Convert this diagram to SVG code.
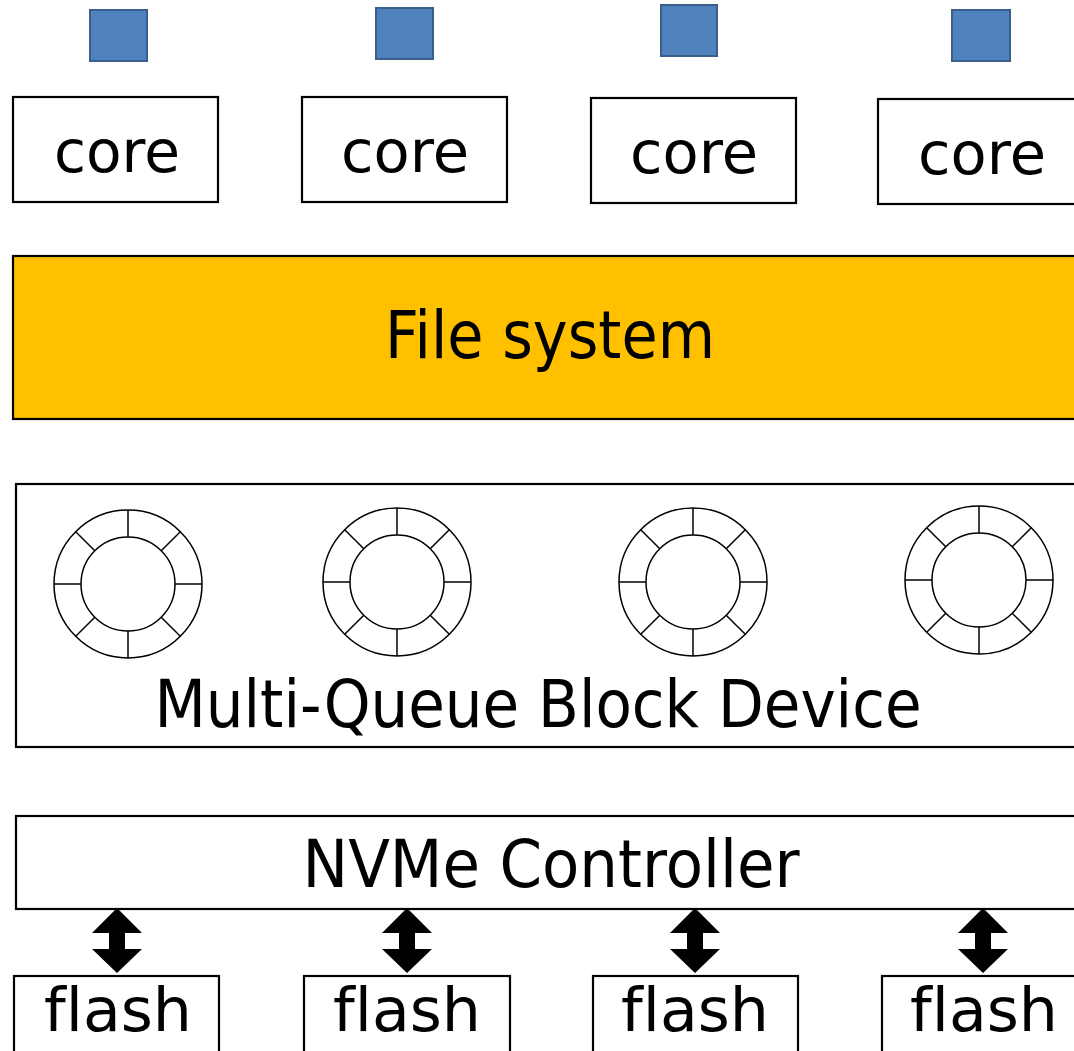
<svg xmlns="http://www.w3.org/2000/svg" xmlns:xlink="http://www.w3.org/1999/xlink" width="1074" height="1051" viewBox="0 0 1074 1051">
  <style>
    .box { fill: #ffffff; stroke: #000000; stroke-width: 2.2; }
    .fs { fill: #FFC000; stroke: #000000; stroke-width: 2.2; }
    .thread { fill: #4F81BD; stroke: #3A5F8B; stroke-width: 2; }
    .ring { fill: #ffffff; stroke: #000000; stroke-width: 1.5; }
    .spoke { stroke: #000000; stroke-width: 1.5; }
    .arrow { fill: #000000; }
    text { font-family: "DejaVu Sans", "Open Sans", sans-serif; fill: #000000; text-anchor: middle; font-variant-ligatures: none; }
    .t-core { font-size: 58px; }
    .t-big { font-size: 65px; }
    .t-flash { font-size: 60px; }
  </style>
  <defs>
    <!-- request queue ring: outer/inner circle with 8 slots -->
    <g id="queue-ring">
      <circle class="ring" cx="0" cy="0" r="74"/>
      <circle class="ring" cx="0" cy="0" r="47"/>
      <line class="spoke" x1="0" y1="-47" x2="0" y2="-74"/>
      <line class="spoke" x1="0" y1="47" x2="0" y2="74"/>
      <line class="spoke" x1="-47" y1="0" x2="-74" y2="0"/>
      <line class="spoke" x1="47" y1="0" x2="74" y2="0"/>
      <line class="spoke" x1="33.2" y1="-33.2" x2="52.3" y2="-52.3"/>
      <line class="spoke" x1="-33.2" y1="-33.2" x2="-52.3" y2="-52.3"/>
      <line class="spoke" x1="33.2" y1="33.2" x2="52.3" y2="52.3"/>
      <line class="spoke" x1="-33.2" y1="33.2" x2="-52.3" y2="52.3"/>
    </g>
    <!-- double-headed block arrow centred on x=0 -->
    <polygon id="dbl-arrow" class="arrow" points="0,908 25,933 8,933 8,949 25,949 0,973 -25,949 -8,949 -8,933 -25,933"/>
  </defs>

  <!-- threads -->
  <g id="thread1"><rect class="thread" x="90" y="10" width="57" height="51"/></g>
  <g id="thread2"><rect class="thread" x="376" y="8" width="57" height="51"/></g>
  <g id="thread3"><rect class="thread" x="661" y="5" width="56" height="51"/></g>
  <g id="thread4"><rect class="thread" x="952" y="10" width="58" height="51"/></g>

  <!-- cores -->
  <g id="core1"><rect class="box" x="13" y="97" width="205" height="105"/><text class="t-core" x="117" y="172" textLength="126" lengthAdjust="spacingAndGlyphs">core</text></g>
  <g id="core2"><rect class="box" x="302" y="97" width="205" height="105"/><text class="t-core" x="405" y="172" textLength="128" lengthAdjust="spacingAndGlyphs">core</text></g>
  <g id="core3"><rect class="box" x="591" y="98" width="205" height="105"/><text class="t-core" x="694" y="173" textLength="128" lengthAdjust="spacingAndGlyphs">core</text></g>
  <g id="core4"><rect class="box" x="878" y="99" width="250" height="105"/><text class="t-core" x="982" y="174" textLength="128" lengthAdjust="spacingAndGlyphs">core</text></g>

  <!-- file system layer -->
  <g id="file-system"><rect class="fs" x="13" y="256" width="1100" height="163"/><text class="t-big" x="550" y="358" textLength="330" lengthAdjust="spacingAndGlyphs">File system</text></g>

  <!-- multi-queue block layer -->
  <g id="block-device">
    <rect class="box" x="16" y="484" width="1100" height="263"/>
    <use xlink:href="#queue-ring" href="#queue-ring" transform="translate(128,584)"/>
    <use xlink:href="#queue-ring" href="#queue-ring" transform="translate(397,582)"/>
    <use xlink:href="#queue-ring" href="#queue-ring" transform="translate(693,582)"/>
    <use xlink:href="#queue-ring" href="#queue-ring" transform="translate(979,580)"/>
    <text class="t-big" x="538" y="727" textLength="767" lengthAdjust="spacingAndGlyphs">Multi-Queue Block Device</text>
  </g>

  <!-- controller -->
  <g id="nvme-controller"><rect class="box" x="16" y="816" width="1100" height="93"/><text class="t-big" x="551" y="887" textLength="497" lengthAdjust="spacingAndGlyphs">NVMe Controller</text></g>

  <!-- flash channels -->
  <g id="flash1"><rect class="box" x="14" y="976" width="205" height="100"/><text class="t-flash" x="118" y="1031" textLength="148" lengthAdjust="spacingAndGlyphs">flash</text></g>
  <g id="flash2"><rect class="box" x="304" y="976" width="206" height="100"/><text class="t-flash" x="407" y="1031" textLength="148" lengthAdjust="spacingAndGlyphs">flash</text></g>
  <g id="flash3"><rect class="box" x="593" y="976" width="205" height="100"/><text class="t-flash" x="695" y="1031" textLength="148" lengthAdjust="spacingAndGlyphs">flash</text></g>
  <g id="flash4"><rect class="box" x="882" y="976" width="250" height="100"/><text class="t-flash" x="984" y="1031" textLength="148" lengthAdjust="spacingAndGlyphs">flash</text></g>

  <!-- controller-to-flash links -->
  <g id="connectors">
    <use xlink:href="#dbl-arrow" href="#dbl-arrow" x="117"/>
    <use xlink:href="#dbl-arrow" href="#dbl-arrow" x="407"/>
    <use xlink:href="#dbl-arrow" href="#dbl-arrow" x="695"/>
    <use xlink:href="#dbl-arrow" href="#dbl-arrow" x="983"/>
  </g>
</svg>
